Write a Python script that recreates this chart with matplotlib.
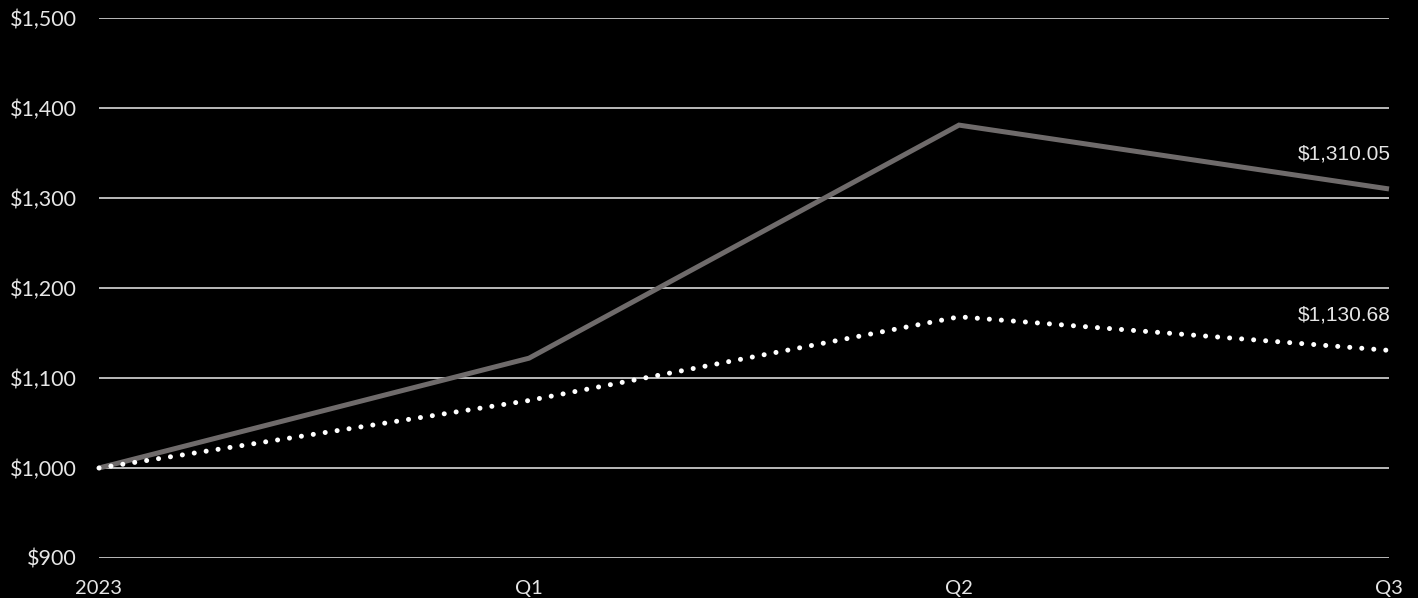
import matplotlib
matplotlib.use("Agg")
import matplotlib.pyplot as plt
from matplotlib.ticker import FuncFormatter

categories = ["2023", "Q1", "Q2", "Q3"]
series_solid = [1000, 1122, 1381, 1310.05]
series_dotted = [1000, 1075, 1168, 1130.68]
end_labels = ["$1,310.05", "$1,130.68"]
y_ticks = [900, 1000, 1100, 1200, 1300, 1400, 1500]

fig = plt.figure(figsize=(14.18, 5.98), dpi=100, facecolor="black")
ax = fig.add_axes([99/1418, 1 - 558/598, (1389 - 99)/1418, (558 - 18)/598])
ax.set_facecolor("black")

x = list(range(len(categories)))
ax.set_ylim(900, 1500)
ax.set_xlim(0, len(categories) - 1)
ax.set_yticks(y_ticks)
ax.yaxis.set_major_formatter(FuncFormatter(lambda v, p: f"${v:,.0f}"))
ax.grid(axis="y", color="#d9d9d9", linewidth=1.2, zorder=1)
ax.set_axisbelow(True)
for s in ax.spines.values():
    s.set_visible(False)
ax.tick_params(axis="both", length=0)
ax.tick_params(axis="y", pad=16, labelsize=15.5, labelcolor="#e6e6e6")
ax.tick_params(axis="x", pad=16, labelsize=14.5, labelcolor="#e6e6e6")
for lbl in ax.get_yticklabels():
    lbl.set_fontfamily("Lato")
ax.set_xticks(x)
ax.set_xticklabels(categories, fontfamily="Lato")

ax.plot(x, series_solid, color="#6f6b6b", linewidth=3.6, solid_capstyle="butt",
        solid_joinstyle="miter", zorder=3, clip_on=False)
ax.plot(x, series_dotted, color="white", linewidth=3.6, linestyle=(0, (0.01, 2.4)),
        dash_capstyle="round", zorder=4, clip_on=False)

for val, lab in zip([series_solid[-1], series_dotted[-1]], end_labels):
    ax.annotate(lab, xy=(x[-1], val), xytext=(1.5, 18.5),
                textcoords="offset points", ha="right", va="bottom",
                fontsize=15, color="#e6e6e6", fontfamily="Liberation Sans")

fig.savefig("out.png", dpi=100, facecolor="black")
